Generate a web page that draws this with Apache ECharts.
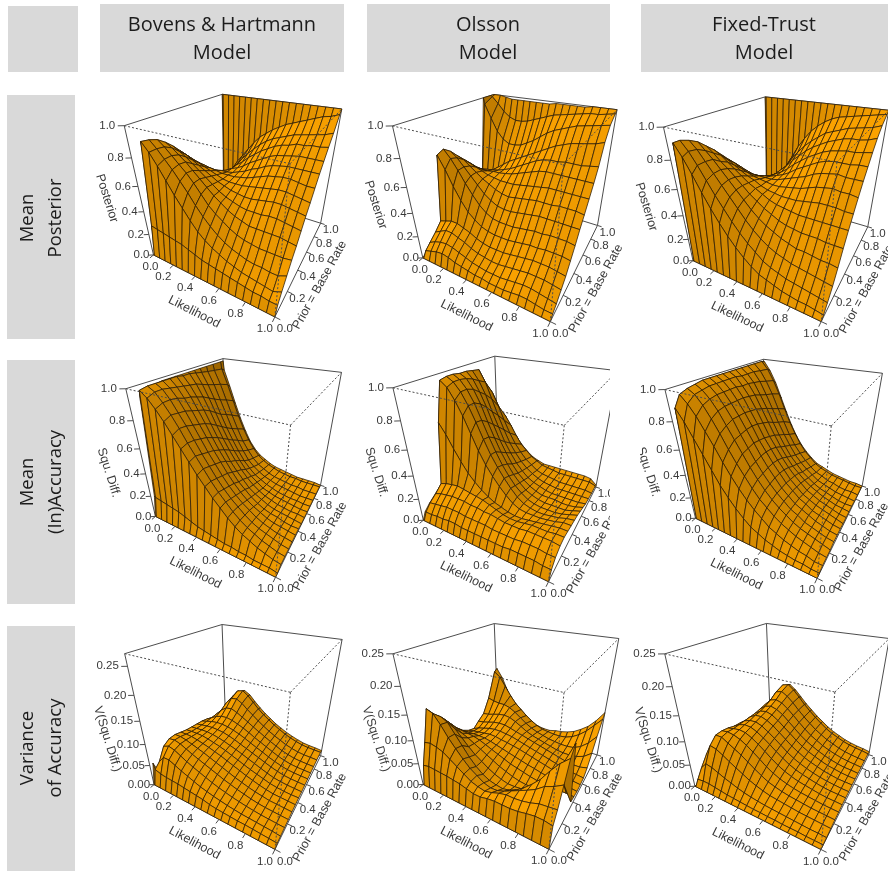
<!DOCTYPE html>
<html><head><meta charset="utf-8">
<style>html,body{margin:0;padding:0;background:#fff}#c{width:888px;height:871px}#c canvas{filter:blur(.35px)}</style>
<script src="https://cdn.jsdelivr.net/npm/echarts@6/dist/echarts.min.js"></script>
</head><body><div id="c"></div>
<script>
// ---------- axis levels ----------
const likelihoodLevels=[0,.01,.065,.12,.175,.23,.285,.34,.395,.45,.505,.56,.615,.67,.725,.78,.835,.89,.945,1];
const priorLevels=[0,.03,.08,.145,.21,.275,.34,.405,.47,.54,.61,.68,.76,.85,.96,1];
const axisTicks=[0,.2,.4,.6,.8,1];
const unitTicks=[0,.2,.4,.6,.8,1];
const varianceTicks=[0,.05,.1,.15,.2,.25];
const modelNames=["Bovens & Hartmann\nModel","Olsson\nModel","Fixed-Trust\nModel"];
const measureNames=["Mean\nPosterior","Mean\n(In)Accuracy","Variance\nof Accuracy"];
const zTitles=["Posterior","Squ. Diff.","V(Squ. Diff.)"];
// ---------- surfaces: rows = prior level, columns = likelihood level ----------
// Mean posterior, per cent
const bovensPosterior=[
[0,0,0,0,0,0,0,0,0,0,0,0,0,0,0,0,0,0,0,0],
[0,26,25,24,23,22,21,19,17,15,14,13,12,11,10,9,8,8,7,7],
[0,88,82,74,65,56,48,40,33,28,24,21,18,16,14,13,12,11,10,13],
[0,87,82,76,70,63,56,48,41,35,30,26,23,21,19,18,18,17,17,20],
[0,85,81,76,71,66,60,53,46,41,37,33,30,28,27,26,26,26,26,27],
[0,81,78,74,70,65,60,55,50,46,42,39,37,35,35,35,35,35,34,33],
[0,76,73,70,66,62,58,54,50,47,45,43,42,42,42,43,43,42,41,40],
[0,70,68,65,62,59,56,53,51,49,48,47,47,48,49,50,50,49,48,47],
[0,64,62,60,58,56,54,52,51,51,51,52,53,54,55,56,56,55,54,53],
[0,57,56,55,54,53,52,52,52,53,54,56,58,60,61,62,62,61,60,60],
[0,50,49,49,49,50,50,51,53,55,58,60,63,65,66,67,67,67,67,67],
[0,42,42,43,45,47,50,52,55,59,62,65,68,70,71,72,73,73,73,73],
[0,34,35,38,41,45,50,54,59,63,67,70,73,75,76,78,78,79,79,80],
[0,26,28,33,38,45,52,58,63,68,72,75,77,79,81,82,83,84,85,87],
[0,18,26,34,43,50,57,64,70,74,78,81,84,86,88,90,92,94,95,97],
[100,100,100,100,100,100,100,100,100,100,100,100,100,100,100,100,100,100,100,100]];
const olssonPosterior=[
[0,0,0,0,0,0,0,0,0,0,0,0,0,0,0,0,0,0,0,0],
[2,5,7,9,10,9,7,6,5,4,4,3,3,3,4,5,5,4,3,3],
[5,9,12,14,15,14,12,10,8,7,6,6,6,7,8,9,9,8,7,6],
[9,14,17,20,20,18,16,13,11,10,9,9,10,11,12,13,13,13,12,11],
[12,20,22,24,24,22,20,17,15,14,14,14,15,16,17,18,18,18,17,16],
[15,72,62,50,40,32,27,23,21,20,20,20,21,22,23,23,24,24,24,23],
[18,74,68,60,51,43,36,31,28,27,27,27,28,29,30,30,31,31,31,30],
[20,70,66,60,54,48,42,38,35,34,34,35,36,37,38,38,38,38,38,38],
[22,64,62,58,54,50,47,44,42,41,42,43,44,45,45,45,46,46,46,45],
[24,58,56,54,52,50,49,48,48,48,49,50,51,52,53,53,53,53,53,53],
[26,52,50,49,49,50,50,51,52,54,56,58,60,61,61,61,61,61,61,61],
[28,45,45,46,47,48,50,52,55,58,61,64,66,67,67,68,68,68,69,70],
[30,38,40,42,46,50,54,57,60,63,66,69,72,75,77,79,80,81,82,84],
[100,95,84,74,68,65,65,66,69,72,76,80,83,85,87,89,90,91,92,93],
[100,99,94,88,84,82,82,83,85,87,89,91,92,93,94,95,96,96,97,98],
[100,100,100,99,98,98,98,98,98,98,98,99,99,99,99,99,100,100,100,100]];
const fixedPosterior=[
[0,0,0,0,0,0,0,0,0,0,0,0,0,0,0,0,0,0,0,0],
[0,90,82,72,61,51,42,34,27,21,16,12,10,8,6,5,4,4,3,2],
[0,90,84,76,67,58,50,42,35,29,24,19,16,14,12,11,10,9,8,7],
[0,88,83,76,69,62,55,48,41,35,30,26,23,21,19,18,17,16,15,14],
[0,85,80,75,69,63,57,51,45,40,36,33,30,28,26,26,25,24,24,23],
[0,80,76,71,67,62,57,52,48,44,41,38,36,35,34,34,34,33,33,33],
[0,75,72,68,64,60,56,53,50,47,45,44,43,42,42,42,42,42,42,42],
[0,69,66,63,60,57,55,52,50,49,48,48,48,49,50,51,51,51,50,50],
[0,63,61,58,56,54,53,52,51,51,52,53,54,56,58,59,60,59,59,58],
[0,57,55,53,51,51,51,51,52,54,56,58,60,63,65,66,67,66,66,66],
[0,50,48,47,47,48,49,51,53,56,60,63,66,69,71,72,72,72,73,73],
[0,43,42,42,43,45,48,51,55,60,64,68,71,74,76,77,78,78,79,80],
[0,35,35,36,39,43,48,53,59,64,69,73,76,79,81,83,84,84,85,87],
[0,28,29,31,35,41,48,56,63,69,74,78,82,84,86,88,89,90,91,93],
[0,22,24,28,34,43,53,63,71,78,83,87,90,92,93,94,95,96,97,98],
[100,100,100,100,100,100,100,100,100,100,100,100,100,100,100,100,100,100,100,100]];
// Mean squared difference, per cent
const bovensAccuracy=[
[0,0,0,0,0,0,0,0,0,0,0,0,0,0,0,0,0,0,0,0],
[18,17,16,15,14,13,11,9,7,6,5,4,3,3,2,2,1,1,1,0],
[90,97,93,87,80,72,64,56,48,41,34,28,22,17,13,10,7,5,3,2],
[95,98,95,89,82,74,65,57,49,41,34,28,22,17,13,10,7,5,3,2],
[97,98,95,89,81,73,64,55,47,39,32,26,21,16,12,9,7,5,3,2],
[98,98,94,88,80,71,62,53,45,37,30,24,19,15,11,8,6,4,3,2],
[98,98,93,86,78,69,60,51,43,35,28,22,17,13,10,7,5,4,3,2],
[98,98,92,85,76,67,57,48,40,32,25,20,15,11,8,6,5,3,2,2],
[98,97,91,83,74,64,54,45,36,29,23,17,13,10,7,5,4,3,2,1],
[98,97,90,81,71,60,50,41,33,26,20,15,11,8,6,4,3,2,2,1],
[98,96,88,78,67,56,46,37,29,22,17,13,9,7,5,4,3,2,1,1],
[98,95,86,75,63,52,42,33,25,19,14,11,8,6,4,3,2,2,1,1],
[98,94,84,72,60,48,38,29,21,16,12,9,7,5,4,3,2,1,1,1],
[98,93,82,69,56,44,33,25,18,13,10,7,5,4,3,2,2,1,1,1],
[98,92,79,65,51,39,29,21,15,11,8,6,4,3,2,2,1,1,1,1],
[98,90,76,61,47,35,25,18,13,10,7,5,4,3,2,1,1,1,1,0]];
const olssonAccuracy=[
[0,0,0,0,0,0,0,0,0,0,0,0,0,0,0,0,0,0,0,0],
[6,6,6,7,7,8,8,7,7,7,7,7,7,7,8,8,8,8,7,7],
[10,11,12,13,14,14,14,13,13,13,13,12,12,12,12,13,13,13,12,12],
[14,15,17,18,19,19,19,18,18,17,17,16,15,15,15,16,16,16,16,15],
[18,20,22,23,24,23,22,21,20,18,16,14,13,13,14,15,15,15,16,16],
[20,68,60,50,41,33,27,22,18,15,13,11,10,10,11,12,13,14,15,15],
[22,96,92,84,74,62,50,40,32,25,19,14,11,10,10,10,11,12,14,14],
[22,97,94,88,79,68,56,45,36,28,21,15,11,9,8,8,9,10,12,13],
[22,97,94,88,79,67,55,44,34,26,19,14,10,8,7,7,7,8,10,12],
[22,96,93,86,76,63,51,40,31,23,17,12,9,7,6,6,6,6,8,10],
[22,96,91,82,71,58,46,36,27,20,15,11,8,6,6,6,5,5,6,8],
[22,95,88,78,65,53,41,32,24,18,13,10,8,6,5,5,5,5,5,6],
[22,94,85,72,59,47,36,28,21,16,12,9,7,6,5,5,5,5,5,5],
[22,80,74,63,51,40,31,24,18,14,10,8,7,6,5,5,5,5,5,4],
[22,55,55,50,42,33,25,20,15,12,9,8,7,6,6,6,6,6,6,4],
[15,40,42,40,34,27,21,16,12,10,8,8,8,8,8,8,8,8,7,2]];
const fixedAccuracy=[
[0,0,0,0,0,0,0,0,0,0,0,0,0,0,0,0,0,0,0,0],
[0,88,80,70,60,50,40,32,25,19,14,11,8,6,4,3,2,2,1,1],
[0,95,90,83,74,65,55,46,38,31,25,20,15,12,9,7,5,4,2,2],
[0,97,94,88,80,71,61,52,44,36,29,24,19,15,12,9,7,5,3,2],
[0,98,95,90,83,74,65,56,47,39,32,26,21,17,13,10,8,6,4,2],
[0,99,96,91,84,76,66,57,48,40,33,27,22,17,14,10,8,6,4,3],
[0,99,96,91,84,76,67,58,49,41,34,27,22,17,14,11,8,6,4,3],
[0,99,96,91,84,76,67,57,49,41,34,27,22,17,14,10,8,6,4,3],
[0,99,96,91,84,75,66,56,48,40,33,26,21,16,13,10,8,6,4,2],
[0,99,96,90,83,74,64,54,46,38,31,25,20,15,12,9,7,5,3,2],
[0,99,95,90,82,72,62,52,43,35,28,23,18,14,11,8,6,4,3,2],
[0,99,95,89,80,70,59,49,40,32,26,20,16,12,9,7,5,3,2,2],
[0,99,95,88,78,67,56,46,37,29,23,18,14,10,8,6,4,3,2,1],
[0,99,94,86,76,64,53,42,33,26,20,15,11,9,6,5,3,2,2,1],
[0,99,93,84,73,60,48,38,29,22,17,12,9,7,5,4,3,2,1,1],
[0,98,91,81,68,55,43,33,25,19,14,10,8,6,4,3,2,1,1,0]];
// Variance of squared difference, thousandths
const bovensVariance=[
[0,0,0,0,0,0,0,0,0,0,0,0,0,0,0,0,0,0,0,0],
[50,35,30,28,27,26,24,22,20,18,14,12,11,10,9,9,8,7,6,5],
[10,45,62,62,55,48,42,36,30,26,22,19,16,14,12,11,10,9,8,6],
[5,72,78,74,66,58,51,45,39,33,28,24,20,17,14,12,10,9,8,7],
[3,80,82,78,71,64,58,52,46,40,34,29,24,20,16,13,11,10,9,8],
[3,80,80,77,72,67,62,56,50,44,38,32,27,22,18,15,12,11,10,9],
[3,76,76,75,72,68,64,59,54,48,42,36,30,25,20,16,13,12,11,10],
[3,72,73,73,72,69,65,61,56,50,44,38,32,27,22,17,14,12,11,11],
[3,70,71,72,72,70,67,63,58,53,47,41,35,29,23,18,15,13,12,11],
[3,68,70,72,73,72,70,66,61,55,49,43,37,31,25,20,16,14,13,12],
[3,66,70,74,76,76,74,70,65,59,52,45,39,32,26,21,17,15,14,13],
[3,62,70,78,83,84,81,76,70,63,55,48,41,34,27,22,18,16,15,14],
[3,55,70,85,95,97,91,83,75,66,58,50,42,35,28,23,19,17,16,15],
[3,45,70,95,110,112,104,92,81,70,60,51,43,36,29,24,20,18,17,16],
[3,35,65,100,118,122,112,98,84,72,62,52,44,36,30,25,21,19,18,17],
[0,20,55,92,112,118,110,95,82,70,60,50,42,35,29,24,20,18,17,15]];
const olssonVariance=[
[0,0,0,0,0,0,0,0,0,0,0,0,0,0,0,0,0,0,0,0],
[0,42,45,44,43,42,40,38,34,30,30,34,36,36,36,38,42,45,45,42],
[0,85,88,85,80,70,60,50,40,35,32,36,42,46,46,48,52,58,60,62],
[0,145,140,122,100,82,65,50,40,30,25,26,32,40,48,56,65,78,85,95],
[0,125,125,118,98,78,58,42,30,22,18,16,20,28,40,55,72,95,115,130],
[0,110,105,95,80,65,52,42,32,24,18,14,14,16,22,32,48,72,105,145],
[0,90,84,76,70,62,54,46,38,30,24,18,14,12,12,14,20,30,45,15],
[0,70,68,66,64,60,54,48,42,36,30,26,22,18,15,13,13,13,13,12],
[0,55,55,56,56,55,52,48,44,40,36,32,28,25,21,18,15,13,12,10],
[0,45,48,50,52,54,53,50,48,45,42,38,34,30,26,22,18,15,13,11],
[0,40,46,50,54,56,56,54,52,48,44,40,36,32,28,24,20,17,15,13],
[0,50,52,56,60,62,62,58,54,50,46,42,38,34,30,26,22,20,20,24],
[0,60,62,66,70,72,70,64,56,48,42,38,34,30,26,24,24,26,32,45],
[0,90,86,84,84,80,72,62,52,44,38,34,30,28,26,26,28,36,50,70],
[0,145,135,115,95,78,66,54,44,36,30,28,26,26,28,34,44,58,76,95],
[0,150,130,100,72,52,42,34,30,28,26,26,30,32,36,42,52,64,82,105]];
const fixedVariance=[
[0,0,0,0,0,0,0,0,0,0,0,0,0,0,0,0,0,0,0,0],
[0,12,14,14,12,10,8,7,6,5,4,4,3,3,2,2,2,1,1,1],
[0,30,45,42,36,30,25,20,16,13,11,9,8,7,6,5,4,3,3,2],
[0,50,75,72,64,55,47,39,31,25,20,16,14,12,10,8,7,6,5,4],
[0,55,88,88,80,72,64,54,44,35,27,22,18,15,13,11,9,8,7,6],
[0,50,88,90,88,83,75,65,54,43,34,27,22,18,15,13,11,9,8,7],
[0,45,85,88,90,88,81,72,61,50,40,32,26,21,18,15,12,10,9,8],
[0,42,80,88,92,91,85,76,66,55,45,36,29,24,20,16,13,11,10,9],
[0,40,78,88,93,94,89,80,70,59,48,39,32,26,21,17,14,12,10,9],
[0,38,75,88,96,97,92,84,73,62,51,42,34,28,23,18,15,12,11,10],
[0,35,72,88,97,100,96,87,76,65,54,44,36,30,24,19,16,13,11,10],
[0,32,70,90,100,104,100,92,80,68,56,46,38,31,25,20,16,13,12,10],
[0,28,68,92,106,110,106,96,84,71,59,48,40,32,26,21,17,14,12,10],
[0,24,62,94,116,120,112,100,86,73,61,50,41,33,27,21,17,14,12,10],
[0,20,55,95,122,126,116,102,87,74,62,51,41,33,27,21,17,14,12,9],
[0,15,45,85,116,122,112,98,84,72,60,50,40,32,26,20,16,13,11,8]];

// ---------- layout: box corners seen on the page for each panel ----------
// A(0,0,0) B(1,0,0) C(1,1,0) D(0,0,1) E(0,1,1) F(1,1,1) G(1,0,1), in the panel's 3x crop
const panels=[
 {o:[90,90],  c:[[190,495],[555,680],[692,400],[103,105],[397,14],[755,55],[600,225]],m:bovensPosterior,k:.01,zMax:1,ticks:unitTicks,t:0,zDy:8},
 {o:[360,90], c:[[190,505],[565,695],[715,405],[98,105],[400,14],[770,60],[615,225]],m:olssonPosterior,k:.01,zMax:1,ticks:unitTicks,t:0,zDy:13},
 {o:[630,90], c:[[190,512],[570,695],[715,410],[100,112],[405,20],[775,62],[625,215]],m:fixedPosterior,k:.01,zMax:1,ticks:unitTicks,t:0,zDy:13},
 {o:[90,350], c:[[197,500],[555,682],[692,405],[108,115],[398,26],[755,68],[602,225]],m:bovensAccuracy,k:.01,zMax:1,ticks:unitTicks,t:1,zDy:20},
 {o:[360,350],c:[[190,510],[565,695],[708,412],[98,115],[405,18],[772,62],[615,225]],m:olssonAccuracy,k:.01,zMax:1,ticks:unitTicks,t:1,zDy:18},
 {o:[630,350],c:[[197,505],[560,685],[697,408],[105,118],[400,28],[757,70],[605,228]],m:fixedAccuracy,k:.01,zMax:1,ticks:unitTicks,t:1,zDy:18},
 {o:[90,611], c:[[192,520],[555,715],[692,435],[103,130],[397,40],[755,85],[603,243]],m:bovensVariance,k:.001,zMax:.27,ticks:varianceTicks,t:2,zDy:20},
 {o:[360,611],c:[[190,520],[565,715],[712,432],[98,130],[403,37],[775,83],[615,243]],m:olssonVariance,k:.001,zMax:.25,ticks:varianceTicks,t:2,zDy:20},
 {o:[630,611],c:[[195,525],[570,715],[718,432],[103,130],[410,37],[775,82],[620,243]],m:fixedVariance,k:.001,zMax:.25,ticks:varianceTicks,t:2,zDy:20}
];
const cubeCorners=[[0,0,0],[1,0,0],[1,1,0],[0,0,1],[0,1,1],[1,1,1],[1,0,1]];

// least squares fit of a projective camera to the box corners
function fitCamera(p){
  const rows=[],rhs=[];
  p.c.forEach((s,n)=>{
    const [x,y,z]=cubeCorners[n],u=s[0]/100,v=s[1]/100;
    rows.push([x,y,z,1,0,0,0,0,-u*x,-u*y,-u*z]);rhs.push(u);
    rows.push([0,0,0,0,x,y,z,1,-v*x,-v*y,-v*z]);rhs.push(v);
  });
  const N=11,M=[];
  for(let a=0;a<N;a++){M[a]=new Array(N+1).fill(0);
    for(let b=0;b<N;b++)rows.forEach(r=>M[a][b]+=r[a]*r[b]);
    rows.forEach((r,q)=>M[a][N]+=r[a]*rhs[q]);}
  for(let a=0;a<N;a++){let w=a;for(let b=a+1;b<N;b++)if(Math.abs(M[b][a])>Math.abs(M[w][a]))w=b;
    [M[a],M[w]]=[M[w],M[a]];
    for(let b=0;b<N;b++)if(b!==a){const f=M[b][a]/M[a][a];for(let d=a;d<=N;d++)M[b][d]-=f*M[a][d];}}
  const h=M.map((r,a)=>r[N]/r[a]);
  return (x,y,z)=>{const w=h[8]*x+h[9]*y+h[10]*z+1;
    return [p.o[0]+(h[0]*x+h[1]*y+h[2]*z+h[3])/w*100/3,p.o[1]+(h[4]*x+h[5]*y+h[6]*z+h[7])/w*100/3];};
}
const LINE='#2a1b05',BOX='#4d4d4d',TXT='#3a3a3a',FONT='"Liberation Sans",Arial,sans-serif';
function shadeColor(nx,ny){const L=Math.hypot(nx,ny,1),d=(-.5*nx-.3*ny+.8)/L,t=(1+d)/2,f=.44+.56*t;
  return 'rgb('+Math.round(255*f)+','+Math.round(165*f)+',0)';}
const series=[];
panels.forEach(p=>{
  const cam=fitCamera(p),zn=v=>v*p.k/p.zMax;
  const nx=likelihoodLevels.length,ny=priorLevels.length;
  const line=(api,a,b,st)=>({type:'line',silent:true,shape:{x1:api.coord(a)[0],y1:api.coord(a)[1],x2:api.coord(b)[0],y2:api.coord(b)[1]},style:st});
  // back of the box
  series.push({type:'custom',coordinateSystem:'cartesian2d',z:2,silent:true,clip:false,animation:false,data:[[0,0]],
    renderItem:(q,api)=>{const s={stroke:BOX,lineWidth:1,fill:null},C=(x,y,z)=>cam(x,y,z);
      const edges=[[[0,0,0],[0,0,1]],[[0,0,1],[0,1,1]],[[0,1,1],[1,1,1]],[[1,1,1],[1,1,0]],[[0,1,1],[0,1,0]],[[0,1,0],[1,1,0]],[[0,1,0],[0,0,0]],[[0,0,0],[1,0,0]],[[1,0,0],[1,1,0]]];
      return {type:'group',children:edges.map(e=>line(api,C(...e[0]),C(...e[1]),s))};}});
  // surface, far cells first
  const cells=[];
  for(let i=0;i<nx-1;i++)for(let j=ny-2;j>=0;j--)cells.push([i,j]);
  series.push({type:'custom',coordinateSystem:'cartesian2d',z:3,silent:true,clip:false,animation:false,progressive:0,data:cells,
    renderItem:(q,api)=>{const i=api.value(0),j=api.value(1),m=p.m;
      const x0=likelihoodLevels[i],x1=likelihoodLevels[i+1],y0=priorLevels[j],y1=priorLevels[j+1];
      const a=zn(m[j][i]),b=zn(m[j][i+1]),c=zn(m[j+1][i+1]),d=zn(m[j+1][i]);
      const pts=[cam(x0,y0,a),cam(x1,y0,b),cam(x1,y1,c),cam(x0,y1,d)].map(v=>api.coord(v));
      const dzx=((b-a)+(c-d))/2/(x1-x0),dzy=((d-a)+(c-b))/2/(y1-y0);
      return {type:'polygon',silent:true,shape:{points:pts},style:{fill:shadeColor(-dzx,-dzy),stroke:LINE,lineWidth:.75}};}});
  // front of the box (dotted), ticks and labels
  series.push({type:'custom',coordinateSystem:'cartesian2d',z:4,silent:true,clip:false,animation:false,data:[[0,0]],
    renderItem:(q,api)=>{
      const kids=[],dot={stroke:BOX,lineWidth:1,lineDash:[2,2],fill:null},tick={stroke:BOX,lineWidth:1,fill:null};
      [[[0,0,1],[1,0,1]],[[1,0,1],[1,1,1]],[[1,0,1],[1,0,0]]].forEach(e=>kids.push(line(api,cam(...e[0]),cam(...e[1]),dot)));
      const label=(pt,dx,dy,str,al)=>{const s=api.coord(pt);kids.push({type:'text',silent:true,x:s[0]+dx,y:s[1]+dy,style:{text:str,font:'11.5px '+FONT,fill:TXT,align:al||'center',verticalAlign:'middle'}});};
      axisTicks.forEach(t=>{
        kids.push(line(api,cam(t,0,0),cam(t,-.035,0),tick));
        label(cam(t,0,0),t===0?-3:-10,12,t.toFixed(1));
        kids.push(line(api,cam(1,t,0),cam(1.035,t,0),tick));
        label(cam(1,t,0),10,t===0?12:7,t.toFixed(1));
      });
      p.ticks.forEach(t=>{const zz=t/p.zMax;
        kids.push(line(api,cam(0,0,zz),cam(-.03,-.02,zz),tick));
        label(cam(0,0,zz),-4-5*zz,0,t.toFixed(p.t===2?2:1),'right');
      });
      const title=(a,b,dx,dy,str,flip)=>{const s=api.coord(a),e=api.coord(b);let ang=Math.atan2(-(e[1]-s[1]),e[0]-s[0]);
        if(flip)ang+=flip;
        kids.push({type:'text',silent:true,x:(s[0]+e[0])/2+dx,y:(s[1]+e[1])/2+dy,rotation:ang,style:{text:str,font:'12.5px '+FONT,fill:TXT,align:'center',verticalAlign:'middle'}});};
      title(cam(0,0,0),cam(1,0,0),-20,26,'Likelihood');
      title(cam(1,0,0),cam(1,1,0),22,15,'Prior = Base Rate',-.05);
      title(cam(0,0,1),cam(0,0,0),-32,p.zDy,zTitles[p.t],.08);
      return {type:'group',children:kids};}});
});
// ---------- page furniture ----------
const GREY='#d9d9d9',HEAD='#1c1c1c',HFONT='"Open Sans",sans-serif';
const box=(x,y,w,h)=>({type:'rect',z:100,silent:true,shape:{x,y,width:w,height:h},style:{fill:GREY}});
const cover=(x,y,w,h)=>({type:'rect',z:90,silent:true,shape:{x,y,width:w,height:h},style:{fill:'#fff'}});
const htext=(x,y,str,rot,size)=>({type:'text',z:101,silent:true,x,y,rotation:rot||0,style:{text:str,font:(size||20)+'px '+HFONT,fill:HEAD,lineHeight:28,align:'center',verticalAlign:'middle'}});
const graphic=[
 cover(610,352,30,258),cover(630,338,258,14),
 box(8,6,70,66),box(100,4,244,68),box(367,4,243,68),box(641,4,247,68),
 box(7,95,68,244),box(7,360,68,244),box(7,626,68,245),
 htext(222,39,modelNames[0]),htext(488,39,modelNames[1]),htext(764,39,modelNames[2]),
 htext(42,218,measureNames[0],Math.PI/2,18.5),htext(42,482,measureNames[1],Math.PI/2,18.5),htext(42,748,measureNames[2],Math.PI/2,18.5)
];
const chart=echarts.init(document.getElementById('c'),null,{renderer:'canvas'});
chart.setOption({animation:false,backgroundColor:'#fff',
  grid:{left:0,right:0,top:0,bottom:0},
  xAxis:{type:'value',min:0,max:888,show:false},
  yAxis:{type:'value',min:0,max:871,inverse:true,show:false},
  series,graphic});
</script></body></html>
